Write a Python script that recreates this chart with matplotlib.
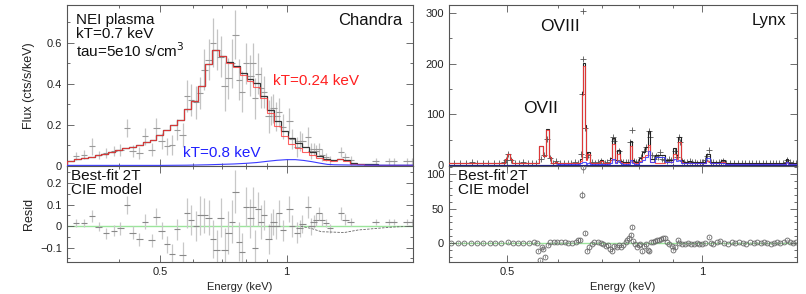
import matplotlib
matplotlib.use("Agg")
import matplotlib.pyplot as plt
from matplotlib.ticker import FixedLocator, NullFormatter, FixedFormatter, MultipleLocator

plt.rcParams['font.family'] = ['Liberation Sans', 'DejaVu Sans']

# ---------------- Chandra (left) ----------------
ch_edges = [0.300, 0.312, 0.324, 0.336, 0.349, 0.362, 0.376, 0.391, 0.406, 0.421,
            0.438, 0.455, 0.472, 0.490, 0.509, 0.529, 0.549, 0.570, 0.592, 0.615,
            0.639, 0.664, 0.690, 0.716, 0.744, 0.773, 0.803, 0.834, 0.866, 0.900,
            0.934, 0.971, 1.008, 1.047, 1.088, 1.130, 1.174, 1.219, 1.266, 1.315,
            1.366, 1.419, 1.474, 1.531, 1.590, 1.652, 1.716, 1.782, 1.851, 1.923, 2.000]
ch_total = [0.021, 0.030, 0.037, 0.043, 0.050, 0.059, 0.068, 0.076, 0.085, 0.093,
            0.102, 0.113, 0.127, 0.150, 0.175, 0.198, 0.222, 0.275, 0.315, 0.390,
            0.495, 0.565, 0.535, 0.505, 0.487, 0.455, 0.425, 0.405, 0.340, 0.270,
            0.220, 0.170, 0.135, 0.110, 0.090, 0.065, 0.045, 0.030, 0.026, 0.034,
            0.025, 0.012, 0.008, 0.007, 0.006, 0.005, 0.005, 0.004, 0.004, 0.003]
ch_cool = [0.021, 0.030, 0.037, 0.043, 0.050, 0.059, 0.068, 0.076, 0.085, 0.093,
           0.102, 0.113, 0.127, 0.150, 0.175, 0.198, 0.222, 0.275, 0.315, 0.390,
           0.495, 0.565, 0.535, 0.503, 0.483, 0.445, 0.415, 0.385, 0.330, 0.255,
           0.195, 0.145, 0.105, 0.085, 0.068, 0.050, 0.035, 0.025, 0.024, 0.030,
           0.022, 0.009, 0.006, 0.005, 0.004, 0.004, 0.003, 0.003, 0.002, 0.002]
ch_hot_E = [0.30, 0.50, 0.58, 0.65, 0.75, 0.80, 0.85, 0.90, 0.95, 1.00, 1.05,
            1.10, 1.15, 1.20, 1.25, 1.30, 1.40, 1.60, 2.00]
ch_hot = [0.001, 0.001, 0.002, 0.004, 0.008, 0.011, 0.015, 0.021, 0.026, 0.029,
          0.029, 0.025, 0.019, 0.012, 0.006, 0.004, 0.003, 0.002, 0.002]

ch_E = [0.315, 0.329, 0.344, 0.357, 0.372, 0.388, 0.402, 0.417, 0.430, 0.446,
        0.460, 0.477, 0.490, 0.504, 0.519, 0.533, 0.548, 0.566, 0.579, 0.592,
        0.608, 0.622, 0.637, 0.652, 0.668, 0.682, 0.697, 0.712, 0.727, 0.742,
        0.755, 0.770, 0.784, 0.800, 0.820, 0.830, 0.842, 0.855, 0.870, 0.884,
        0.906, 0.918, 0.930, 0.945, 0.960, 0.980, 1.016, 1.030, 1.060, 1.075,
        1.090, 1.125, 1.145, 1.160, 1.175, 1.195, 1.215, 1.240, 1.270, 1.347,
        1.380, 1.420, 1.630, 1.750, 1.800, 1.930, 1.990]
ch_flux = [0.045, 0.054, 0.094, 0.050, 0.062, 0.070, 0.075, 0.184, 0.070, 0.060,
           0.143, 0.078, 0.184, 0.120, 0.094, 0.100, 0.176, 0.150, 0.340, 0.320,
           0.310, 0.355, 0.468, 0.517, 0.600, 0.566, 0.533, 0.387, 0.427, 0.500,
           0.640, 0.420, 0.360, 0.500, 0.440, 0.500, 0.330, 0.450, 0.380, 0.360,
           0.240, 0.270, 0.280, 0.240, 0.260, 0.190, 0.220, 0.130, 0.090, 0.120,
           0.120, 0.140, 0.070, 0.080, 0.070, 0.080, 0.050, 0.040, 0.025, 0.065,
           0.040, 0.025, 0.020, 0.020, 0.020, 0.020, 0.020]
ch_ferr = [0.020, 0.020, 0.040, 0.020, 0.025, 0.025, 0.030, 0.045, 0.030, 0.030,
           0.040, 0.030, 0.050, 0.040, 0.040, 0.050, 0.050, 0.060, 0.080, 0.080,
           0.080, 0.080, 0.100, 0.100, 0.120, 0.100, 0.100, 0.120, 0.100, 0.120,
           0.120, 0.100, 0.100, 0.100, 0.100, 0.100, 0.100, 0.100, 0.100, 0.080,
           0.080, 0.070, 0.070, 0.070, 0.070, 0.060, 0.060, 0.050, 0.050, 0.050,
           0.040, 0.050, 0.040, 0.030, 0.030, 0.030, 0.030, 0.020, 0.020, 0.025,
           0.020, 0.020, 0.015, 0.015, 0.015, 0.015, 0.015]
ch_res = [0.015, 0.015, 0.047, -0.003, -0.034, -0.022, -0.010, 0.098, -0.030, -0.062,
          0.020, -0.065, 0.043, -0.022, -0.085, -0.130, -0.015, -0.135, 0.060, 0.030,
          0.000, 0.050, 0.050, 0.040, -0.060, -0.110, 0.040, -0.110, -0.030, 0.020,
          0.160, -0.073, -0.120, 0.090, 0.036, 0.090, -0.100, 0.080, 0.020, 0.050,
          -0.060, 0.000, 0.020, 0.000, 0.060, -0.020, 0.080, 0.000, -0.030, -0.010,
          0.010, 0.090, 0.000, 0.020, 0.030, 0.060, 0.030, 0.015, -0.010, 0.060,
          0.030, 0.020, 0.020, 0.020, 0.020, 0.020, 0.020]
ch_rerr = [0.020, 0.020, 0.030, 0.020, 0.025, 0.025, 0.030, 0.040, 0.030, 0.030,
           0.035, 0.030, 0.040, 0.040, 0.040, 0.045, 0.050, 0.060, 0.070, 0.070,
           0.070, 0.090, 0.080, 0.080, 0.090, 0.090, 0.090, 0.100, 0.100, 0.100,
           0.100, 0.090, 0.090, 0.090, 0.090, 0.090, 0.080, 0.080, 0.080, 0.070,
           0.070, 0.060, 0.060, 0.060, 0.060, 0.050, 0.060, 0.050, 0.050, 0.040,
           0.040, 0.050, 0.040, 0.030, 0.030, 0.030, 0.030, 0.020, 0.020, 0.030,
           0.025, 0.020, 0.015, 0.015, 0.015, 0.015, 0.015]
ch_dev_E = [1.08, 1.15, 1.21, 1.30, 1.37, 1.48, 1.65, 1.80, 2.00]
ch_dev = [0.000, -0.012, -0.026, -0.028, -0.030, -0.018, -0.010, -0.004, 0.000]

# ---------------- Lynx (right) ----------------
ly_edges = [0.400, 0.497, 0.500, 0.505, 0.509, 0.561, 0.568, 0.574, 0.580, 0.585,
            0.594, 0.598, 0.648, 0.652, 0.655, 0.659, 0.662, 0.664, 0.671, 0.696,
            0.703, 0.720, 0.726, 0.733, 0.740, 0.746, 0.752, 0.773, 0.779, 0.785,
            0.800, 0.808, 0.816, 0.824, 0.832, 0.845, 0.877, 0.903, 0.912, 0.918,
            0.927, 0.935, 0.950, 0.960, 1.010, 1.015, 1.028, 1.035, 1.070, 1.085,
            1.345, 1.358, 1.400]
ly_cool = [3, 12, 21, 12, 3, 37, 18, 70, 16, 3,
           6, 3, 8, 139, 196, 74, 10, 22, 3, 8,
           3, 10, 42, 6, 22, 5, 3, 38, 6, 3,
           8, 15, 20, 40, 5, 4, 5, 22, 12, 45,
           6, 3, 4, 3, 4, 7, 3, 3, 5, 2.5,
           6, 2]
ly_hot = [0.5, 0.5, 0.5, 0.5, 0.5, 0.5, 0.5, 0.5, 0.5, 0.5,
          0.5, 1, 3, 6, 6, 5, 2, 3, 1.5, 2,
          1.5, 4, 12, 4, 8, 3, 2, 10, 3, 2,
          6, 10, 15, 28, 6, 15, 5, 12, 8, 10,
          4, 3, 4, 3, 4, 14, 3, 3, 4, 2,
          5, 2]
ly_total = [3.5, 12.5, 21.5, 12.5, 3.5, 37.5, 18.5, 70.5, 16.5, 3.5,
            6.5, 4, 11, 145, 202, 79, 12, 25, 4.5, 10,
            4.5, 14, 54, 10, 30, 8, 5, 48, 9, 5,
            14, 25, 35, 68, 11, 19, 10, 34, 20, 55,
            10, 6, 8, 6, 8, 21, 6, 6, 9, 4.5,
            11, 4]

ly_E = [0.405, 0.414, 0.423, 0.432, 0.441, 0.450, 0.459, 0.468, 0.477, 0.486,
        0.494, 0.498, 0.502, 0.507, 0.514, 0.522, 0.530, 0.538, 0.546, 0.554,
        0.565, 0.571, 0.577, 0.582, 0.589, 0.596, 0.604, 0.612, 0.620, 0.628,
        0.636, 0.643, 0.650, 0.653, 0.655, 0.656, 0.659, 0.662, 0.667, 0.675,
        0.683, 0.691, 0.699, 0.707, 0.714, 0.721, 0.729, 0.732, 0.738, 0.743,
        0.749, 0.756, 0.763, 0.769, 0.773, 0.779, 0.784, 0.791, 0.797, 0.804,
        0.812, 0.820, 0.828, 0.830, 0.836, 0.842, 0.849, 0.855, 0.861, 0.868,
        0.874, 0.881, 0.888, 0.895, 0.909, 0.915, 0.922, 0.925, 0.931, 0.939,
        0.947, 0.956, 0.965, 0.974, 0.983, 0.992, 1.001, 1.010, 1.017, 1.023,
        1.030, 1.040, 1.050, 1.060, 1.070, 1.078, 1.090, 1.105, 1.120, 1.135,
        1.150, 1.165, 1.180, 1.195, 1.210, 1.225, 1.240, 1.255, 1.270, 1.285,
        1.300, 1.315, 1.330, 1.345, 1.352, 1.365, 1.380, 1.395]
ly_flux = [4, 3, 4, 3, 5, 3, 4, 3, 4, 3,
           5, 10, 21, 9, 4, 3, 5, 3, 4, 3,
           12, 19, 52, 13, 4, 7, 4, 3, 4, 3,
           5, 4, 22, 140, 210, 305, 73, 15, 20, 6,
           4, 5, 8, 4, 5, 10, 55, 48, 10, 27,
           6, 5, 6, 5, 45, 70, 8, 5, 6, 15,
           28, 35, 68, 55, 20, 12, 18, 15, 25, 12,
           10, 8, 12, 10, 28, 15, 55, 45, 8, 6,
           5, 7, 5, 6, 4, 5, 6, 9, 18, 30,
           6, 5, 4, 5, 6, 8, 4, 4, 3, 4,
           3, 4, 3, 4, 3, 3, 4, 3, 3, 3,
           4, 3, 3, 5, 10, 5, 3, 3]

ly_rE = [0.410, 0.420, 0.430, 0.440, 0.450, 0.460, 0.470, 0.480, 0.490, 0.502,
         0.510, 0.520, 0.530, 0.540, 0.550, 0.556, 0.559, 0.563, 0.567, 0.569,
         0.573, 0.578, 0.583, 0.590, 0.598, 0.606, 0.614, 0.622, 0.630, 0.638,
         0.644, 0.648, 0.653, 0.656, 0.660, 0.665, 0.670, 0.675, 0.682, 0.690,
         0.697, 0.704, 0.710, 0.716, 0.722, 0.726, 0.732, 0.738, 0.744, 0.750,
         0.756, 0.762, 0.767, 0.772, 0.776, 0.779, 0.783, 0.788, 0.793, 0.798,
         0.803, 0.808, 0.813, 0.818, 0.824, 0.829, 0.834, 0.840, 0.846, 0.852,
         0.858, 0.864, 0.870, 0.876, 0.882, 0.890, 0.897, 0.903, 0.909, 0.916,
         0.922, 0.930, 0.940, 0.950, 0.960, 0.970, 0.980, 0.990, 1.000, 1.010,
         1.023, 1.030, 1.040, 1.055, 1.066, 1.080, 1.095, 1.110, 1.125, 1.140,
         1.155, 1.170, 1.185, 1.200, 1.215, 1.230, 1.245, 1.260, 1.275, 1.290,
         1.305, 1.320, 1.335, 1.350, 1.365, 1.380, 1.395]
ly_res = [0.5, 0.3, 0.6, 0.4, 0.5, 0.3, 0.6, 0.4, 0.5, 1.4,
          0.5, 0.4, 0.6, 0.8, 1.0, 0.5, -11, -25, -6, -8,
          -20, -3, 1, 1.2, 1.5, 1.0, 1.2, 0.8, 0.5, 1.0,
          4, 5, 70, 110, 15, -11, -6, -2, 1, 2,
          0, -2, -4, -3, -8, -11, -4, -6, -3, -5,
          -3, 2, 4, 8, 12, 23, 3, -2, -5, -3,
          -1, -12, -4, -1, -10, -12, 1, 2, 3, 4,
          5, 6, 7, 8, 1, -2, -4, -10, -6, 4,
          0, -1, -2, 0, -1, -2, 0, -1, -2, 0,
          9, 0, -1, 1, 3, 0, -1, 1, 0, 1,
          0, -1, 1, 0, 1, 0, 1, 0, -1, 0,
          1, 0, 1, 5, 1, 0, 1]
ly_rerr = [1, 1, 1, 1, 1, 1, 1, 1, 1, 1,
           1, 1, 1, 1, 1, 1, 2, 2, 2, 2,
           2, 1, 1, 1, 1, 1, 1, 1, 1, 1,
           2, 2, 5, 8, 3, 2, 2, 1, 1, 1,
           1, 1, 1, 1, 2, 2, 2, 1, 2, 1,
           1, 1, 1, 2, 2, 3, 1, 1, 1, 1,
           1, 2, 2, 2, 2, 2, 1, 1, 1, 1,
           1, 1, 1, 1, 1, 1, 1, 2, 2, 2,
           1, 1, 1, 1, 1, 1, 1, 1, 1, 1,
           2, 1, 1, 1, 1, 1, 1, 1, 1, 1,
           1, 1, 1, 1, 1, 1, 1, 1, 1, 1,
           1, 1, 1, 1, 1, 1, 1]

# ---------------- styling helpers ----------------
FRAME = '#555555'
RED = '#ff3b3b'
BLUE = '#3b3bff'
GREEN = '#9be59b'


def style_axis(ax, xlim, major, minor):
    ax.set_xscale('log')
    ax.set_xlim(*xlim)
    ax.xaxis.set_major_locator(FixedLocator(major))
    ax.xaxis.set_minor_locator(FixedLocator(minor))
    ax.xaxis.set_minor_formatter(NullFormatter())
    ax.xaxis.set_major_formatter(FixedFormatter(['0.5', '1']))
    ax.tick_params(which='both', direction='in', top=True, right=True,
                   colors=FRAME, labelcolor='#222222', labelsize=8, width=0.6)
    ax.tick_params(which='major', length=5)
    ax.tick_params(which='minor', length=2.5)
    for s in ax.spines.values():
        s.set_color(FRAME)
        s.set_linewidth(0.8)


fig = plt.figure(figsize=(8.06, 2.94), dpi=100)

L, LW = 67 / 806, 346 / 806
R, RW = 449 / 806, 348 / 806
TOPB, TOPH = 128 / 294, 161 / 294
BOTB, BOTH = 32 / 294, 96 / 294

# ---------- Left top ----------
ax1 = fig.add_axes([L, TOPB, LW, TOPH])
style_axis(ax1, (0.3, 2.0), [0.5, 1.0], [0.3, 0.4, 0.6, 0.7, 0.8, 0.9, 2.0])
ax1.set_xticklabels([])
ax1.errorbar(ch_E, ch_flux, yerr=ch_ferr, fmt='none', ecolor='#c4c4c4',
             elinewidth=0.9, zorder=2)
ax1.errorbar(ch_E, ch_flux, xerr=[e * 0.018 for e in ch_E], fmt='none',
             ecolor='#999999', elinewidth=0.8, zorder=2)
ax1.stairs(ch_total, ch_edges, color='#333333', lw=0.9, zorder=3)
ax1.stairs(ch_cool, ch_edges, color=RED, lw=0.8, alpha=0.8, zorder=4)
ax1.plot(ch_hot_E, ch_hot, color=BLUE, lw=0.8, zorder=5)
ax1.set_ylim(-0.002, 0.785)
ax1.set_yticks([0, 0.2, 0.4, 0.6])
ax1.set_yticklabels(['0', '0.2', '0.4', '0.6'])
ax1.yaxis.set_minor_locator(MultipleLocator(0.1))
ax1.set_ylabel('Flux (cts/s/keV)', fontsize=9, color='#222222')
ax1.text(0.025, 0.95, 'NEI plasma\nkT=0.7 keV\ntau=5e10 s/cm$^3$', transform=ax1.transAxes,
         ha='left', va='top', fontsize=11, linespacing=1.0, color='#111111')
ax1.text(0.97, 0.95, 'Chandra', transform=ax1.transAxes, ha='right', va='top',
         fontsize=12, color='#111111')
ax1.text(0.594, 0.53, 'kT=0.24 keV', transform=ax1.transAxes, ha='left', va='center',
         fontsize=11, color='#ff2020')
ax1.text(0.335, 0.08, 'kT=0.8 keV', transform=ax1.transAxes, ha='left', va='center',
         fontsize=11, color='#2020ff')

# ---------- Left bottom ----------
ax2 = fig.add_axes([L, BOTB, LW, BOTH])
style_axis(ax2, (0.3, 2.0), [0.5, 1.0], [0.3, 0.4, 0.6, 0.7, 0.8, 0.9, 2.0])
ax2.axhline(0, color=GREEN, lw=1.0, zorder=1)
ax2.errorbar(ch_E, ch_res, yerr=ch_rerr, fmt='none', ecolor='#c8c8c8',
             elinewidth=0.9, zorder=2)
ax2.errorbar(ch_E, ch_res, xerr=[e * 0.018 for e in ch_E], fmt='none',
             ecolor='#888888', elinewidth=0.8, zorder=3)
ax2.plot(ch_dev_E, ch_dev, color='#666666', lw=0.6, ls=(0, (3, 1.5)), zorder=3)
ax2.set_ylim(-0.167, 0.28)
ax2.set_yticks([-0.1, 0, 0.1, 0.2])
ax2.set_yticklabels(['\u22120.1', '0', '0.1', '0.2'])
ax2.yaxis.set_minor_locator(MultipleLocator(0.05))
ax2.set_ylabel('Resid', fontsize=9, color='#222222')
ax2.set_xlabel('Energy (keV)', fontsize=8, color='#222222', labelpad=4)
ax2.text(0.012, 0.97, 'Best-fit 2T\nCIE model', transform=ax2.transAxes, ha='left',
         va='top', fontsize=11, linespacing=1.0, color='#111111')
ax1.yaxis.set_label_coords(-0.093, 0.5)
ax2.yaxis.set_label_coords(-0.093, 0.5)

# ---------- Right top ----------
ax3 = fig.add_axes([R, TOPB, RW, TOPH])
style_axis(ax3, (0.407, 1.40), [0.5, 1.0], [0.6, 0.7, 0.8, 0.9])
ax3.set_xticklabels([])
ax3.plot(ly_E, ly_flux, ls='none', marker='+', ms=4, mew=0.6, color='#555555', zorder=2)
ax3.stairs(ly_total, ly_edges, color='#222222', lw=0.8, zorder=3)
ax3.stairs(ly_cool, ly_edges, color=RED, lw=0.8, alpha=0.85, zorder=4)
ax3.stairs(ly_hot, ly_edges, color=BLUE, lw=0.8, alpha=0.85, zorder=5)
ax3.axhline(0, color='#202080', lw=0.8, zorder=5)
ax3.set_ylim(-2, 316)
ax3.set_yticks([0, 100, 200, 300])
ax3.yaxis.set_minor_locator(MultipleLocator(50))
ax3.text(0.97, 0.95, 'Lynx', transform=ax3.transAxes, ha='right', va='top',
         fontsize=12, color='#111111')
ax3.text(0.262, 0.865, 'OVIII', transform=ax3.transAxes, ha='left', va='center',
         fontsize=12.5, color='#111111')
ax3.text(0.213, 0.36, 'OVII', transform=ax3.transAxes, ha='left', va='center',
         fontsize=12.5, color='#111111')

# ---------- Right bottom ----------
ax4 = fig.add_axes([R, BOTB, RW, BOTH])
style_axis(ax4, (0.407, 1.40), [0.5, 1.0], [0.6, 0.7, 0.8, 0.9])
ax4.axhline(0, color=GREEN, lw=1.0, zorder=1)
ax4.errorbar(ly_rE, ly_res, yerr=ly_rerr, fmt='o', ms=3.5, mfc='none', mec='#666666',
             mew=0.6, ecolor='#999999', elinewidth=0.7, zorder=3)
ax4.set_ylim(-27.5, 112)
ax4.set_yticks([0, 50, 100])
ax4.yaxis.set_minor_locator(MultipleLocator(10))
ax4.set_xlabel('Energy (keV)', fontsize=8, color='#222222', labelpad=4)
ax4.text(0.025, 0.97, 'Best-fit 2T\nCIE model', transform=ax4.transAxes, ha='left',
         va='top', fontsize=11, linespacing=1.0, color='#111111')

fig.savefig('out.png', dpi=100)
